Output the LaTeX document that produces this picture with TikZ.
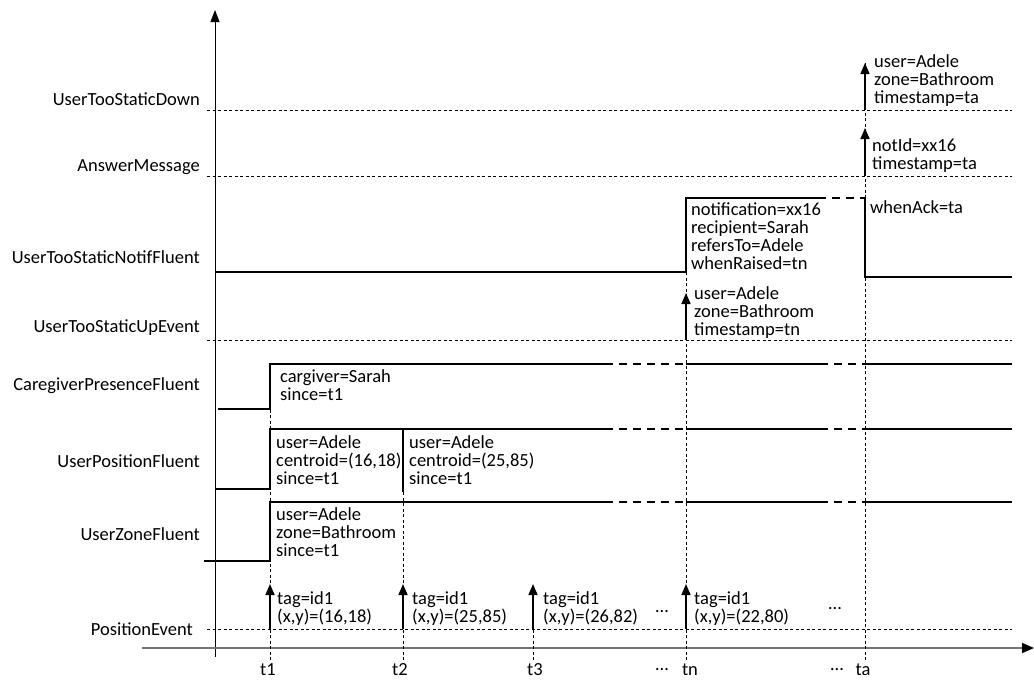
\documentclass[tikz,border=0pt]{standalone}
\usepackage{fontspec}
\setmainfont{Carlito}
\usepackage{tikz}
\usetikzlibrary{arrows.meta, positioning}

\begin{document}
\begin{tikzpicture}[
            x=1pt, y=-1pt,
            axis/.style   ={line width=1pt, -{Triangle[length=12pt, width=9pt]}},
            timeaxis/.style={line width=1.6pt, draw=black!55, -{Triangle[length=12pt, width=10pt, color=black]}},
            grid/.style   ={line width=0.6pt, dash pattern=on 3pt off 2.5pt},
            fluent/.style ={line width=1.6pt},
            gap/.style    ={line width=1.6pt, dash pattern=on 8pt off 6pt},
            event/.style  ={line width=1.6pt, -{Triangle[length=11pt, width=9pt]}},
            rowlabel/.style={anchor=base east, inner sep=0pt, font=\fontsize{18.5}{18}\selectfont},
            tick/.style   ={anchor=base, inner sep=0pt, font=\fontsize{18.5}{18}\selectfont},
            info/.style   ={anchor=north west, yshift=12.6pt, inner sep=0pt, align=left,
                            execute at begin node=\strut,
                            font=\fontsize{18.5}{18}\selectfont}
        ]
        \useasboundingbox (0,0) rectangle (1034,681);

        % time points and rows
        \coordinate (t1) at (270,660);
        \coordinate (t2) at (403,660);
        \coordinate (t3) at (533,660);
        \coordinate (tn) at (686,660);
        \coordinate (ta) at (865,660);
        \coordinate (downrow)   at (207,110);
        \coordinate (answerrow) at (207,176);
        \coordinate (uprow)     at (207,340);
        \coordinate (posrow)    at (207,629);
        \coordinate (origin)    at (215,657);
        \coordinate (ytop)      at (215,10);
        \coordinate (xstart)    at (142,648);
        \coordinate (xend)      at (1034,648);

        % axes
        \draw[axis] (origin) -- (ytop);
        \draw[timeaxis] (xstart) -- (xend);

        % event rows
        \draw[grid] (downrow)   -- ++(805,0);
        \draw[grid] (answerrow) -- ++(805,0);
        \draw[grid] (uprow)     -- ++(805,0);
        \draw[grid] (posrow)    -- ++(805,0);

        % time lines
        \draw[grid] (t1) -- (270,364);
        \draw[grid] (t2) -- (403,429);
        \draw[grid] (t3) -- (533,590);
        \draw[grid] (tn) -- (686,198);
        \draw[grid] (ta) -- (865,63);

        % row labels
        \node[rowlabel] (lbldown)   at (200,105) {UserTooStaticDown};
        \node[rowlabel] (lblanswer) at (200,171) {AnswerMessage};
        \node[rowlabel] (lblnotif)  at (200,263) {UserTooStaticNotifFluent};
        \node[rowlabel] (lblup)     at (200,332) {UserTooStaticUpEvent};
        \node[rowlabel] (lblcare)   at (200,390) {CaregiverPresenceFluent};
        \node[rowlabel] (lblpos)    at (200,467) {UserPositionFluent};
        \node[rowlabel] (lblzone)   at (200,540) {UserZoneFluent};
        \node[rowlabel] (lblposev)  at (193,635) {PositionEvent};

        % tick labels
        \node[tick] (tickt1) at (268,675) {t1};
        \node[tick] (tickt2) at (400,675) {t2};
        \node[tick] (tickt3) at (535,675) {t3};
        \node[tick] (dotsn)  at (662,670) {…};
        \node[tick] (ticktn) at (690,675) {tn};
        \node[tick] (dotsa)  at (837,670) {…};
        \node[tick] (tickta) at (863,675) {ta};

        % UserTooStaticNotifFluent
        \draw[fluent] (216,272) -- (686,272) -- (686,198) -- (818,198);
        \draw[gap]    (818,198) -- (865,198);
        \draw[fluent] (865,198) -- (865,277) -- (1012,277);
        \node[info] (notif) at (691,215)
            {notification=xx16\\recipient=Sarah\\refersTo=Adele\\whenRaised=tn};
        \node[info] (ack) at (870,213) {whenAck=ta};

        % CaregiverPresenceFluent
        \draw[fluent] (218,409) -- (270,409) -- (270,364) -- (605,364);
        \draw[gap]    (605,364) -- (686,364);
        \draw[fluent] (686,364) -- (820,364);
        \draw[gap]    (820,364) -- (865,364);
        \draw[fluent] (865,364) -- (1012,364);
        \node[info] (care) at (280,382) {cargiver=Sarah\\since=t1};

        % UserPositionFluent
        \draw[fluent] (216,489) -- (270,489) -- (270,429) -- (605,429);
        \draw[fluent] (403,429) -- (403,492);
        \draw[gap]    (605,429) -- (686,429);
        \draw[fluent] (686,429) -- (820,429);
        \draw[gap]    (820,429) -- (865,429);
        \draw[fluent] (865,429) -- (1012,429);
        \node[info] (pos1) at (276,448) {user=Adele\\centroid=(16,18)\\since=t1};
        \node[info] (pos2) at (409,448) {user=Adele\\centroid=(25,85)\\since=t1};

        % UserZoneFluent
        \draw[fluent] (204,561) -- (270,561) -- (270,502) -- (605,502);
        \draw[gap]    (605,502) -- (686,502);
        \draw[fluent] (686,502) -- (820,502);
        \draw[gap]    (820,502) -- (865,502);
        \draw[fluent] (865,502) -- (1012,502);
        \node[info] (zone) at (276,520) {user=Adele\\zone=Bathroom\\since=t1};

        % events
        \draw[event] (t1 |- posrow) -- ++(0,-45);
        \draw[event] (t2 |- posrow) -- ++(0,-45);
        \draw[event] (t3 |- posrow) -- ++(0,-45);
        \draw[event] (tn |- posrow) -- ++(0,-45);
        \draw[event] (tn |- uprow) -- ++(0,-47);
        \draw[event] (ta |- answerrow) -- ++(0,-48);
        \draw[event] (ta |- downrow) -- ++(0,-47);

        \node[info] (ev1) at (277,604) {tag=id1\\(x,y)=(16,18)};
        \node[info] (ev2) at (412,604) {tag=id1\\(x,y)=(25,85)};
        \node[info] (ev3) at (543,604) {tag=id1\\(x,y)=(26,82)};
        \node[info] (evn) at (694,604) {tag=id1\\(x,y)=(22,80)};
        \node[tick] (dotsev1) at (662,612) {…};
        \node[tick] (dotsev2) at (835,609) {…};
        \node[info] (upev) at (694,299) {user=Adele\\zone=Bathroom\\timestamp=tn};
        \node[info] (answer) at (872,151) {notId=xx16\\timestamp=ta};
        \node[info] (down) at (874,67) {user=Adele\\zone=Bathroom\\timestamp=ta};
\end{tikzpicture}
\end{document}
